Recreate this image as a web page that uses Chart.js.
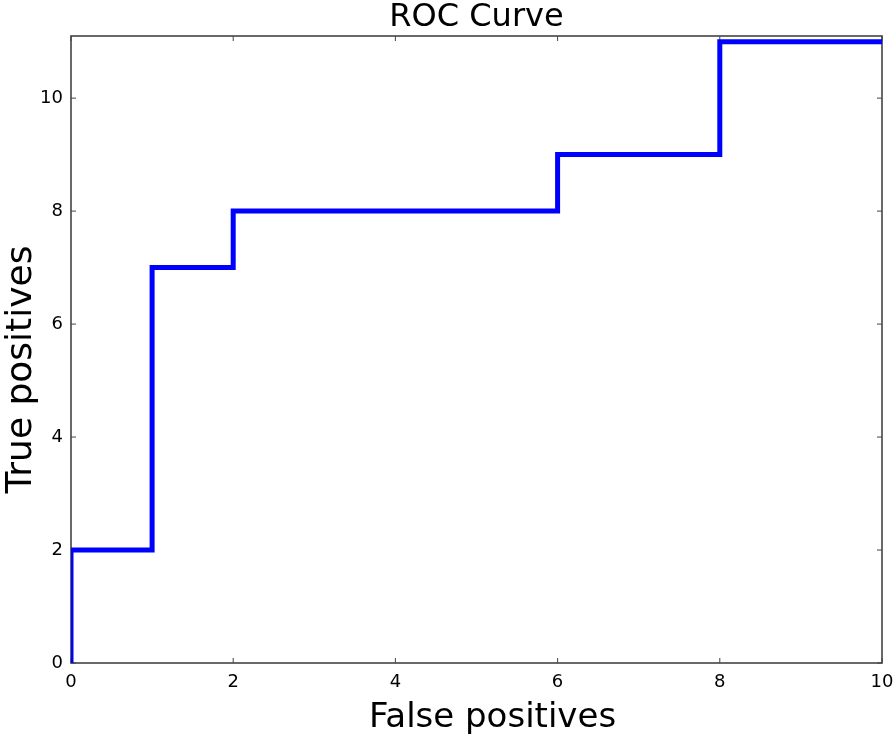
<!DOCTYPE html>
<html>
<head>
<meta charset="utf-8">
<script src="https://cdn.jsdelivr.net/npm/chart.js@4.4.1/dist/chart.umd.min.js"></script>
<style>
  body { margin: 0; background: #fff; }
  #wrap { width: 896px; height: 739px; }
</style>
</head>
<body>
<div id="wrap"><canvas id="roc"></canvas></div>
<script>
// ROC curve points (false positives vs true positives)
const fpr = [0, 0, 1, 1, 2, 2, 6, 6, 8, 8, 10];
const tpr = [0, 2, 2, 7, 7, 8, 8, 9, 9, 11, 11];
const xTicks = [0, 2, 4, 6, 8, 10];
const yTicks = [0, 2, 4, 6, 8, 10];
const xLabel = 'False positives';
const yLabel = 'True positives';

const font = "'DejaVu Sans', sans-serif";

// box around the plot with small inward ticks, like the old matplotlib style
const frame = {
  id: 'frame',
  beforeDatasetsDraw(chart) {
    const { ctx, chartArea: a, scales: { x, y } } = chart;
    ctx.save();
    ctx.strokeStyle = '#444';
    ctx.lineWidth = 1;
    ctx.beginPath();
    x.ticks.forEach(t => {
      const px = x.getPixelForValue(t.value);
      ctx.moveTo(px, a.bottom); ctx.lineTo(px, a.bottom - 5);
      ctx.moveTo(px, a.top); ctx.lineTo(px, a.top + 5);
    });
    y.ticks.forEach(t => {
      const py = y.getPixelForValue(t.value);
      ctx.moveTo(a.left, py); ctx.lineTo(a.left + 5, py);
      ctx.moveTo(a.right, py); ctx.lineTo(a.right - 5, py);
    });
    ctx.stroke();
    ctx.lineWidth = 1.6;
    ctx.strokeStyle = '#444';
    ctx.strokeRect(a.left, a.top, a.width, a.height);
    ctx.restore();
  }
};

// axis labels sit a bit off-centre in the original, so draw them by hand
const axisLabels = {
  id: 'axisLabels',
  afterDraw(chart) {
    const { ctx, chartArea: a } = chart;
    ctx.save();
    ctx.fillStyle = '#000';
    ctx.textAlign = 'center';
    ctx.textBaseline = 'alphabetic';
    ctx.font = '34px ' + font;
    ctx.fillText(xLabel, (a.left + a.right) / 2 + 16, chart.height - 12);
    ctx.translate(31, (a.top + a.bottom) / 2 + 20);
    ctx.rotate(-Math.PI / 2);
    ctx.font = '36px ' + font;
    ctx.fillText(yLabel, 0, 0);
    ctx.restore();
  }
};

new Chart(document.getElementById('roc'), {
  type: 'line',
  data: {
    datasets: [{
      label: 'ROC',
      data: fpr.map((v, i) => ({ x: v, y: tpr[i] })),
      borderColor: '#0000ff',
      borderWidth: 5,
      pointRadius: 0,
      fill: false,
      tension: 0,
      borderJoinStyle: 'miter'
    }]
  },
  options: {
    responsive: true,
    maintainAspectRatio: false,
    animation: false,
    layout: { padding: { right: 14 } },
    plugins: {
      legend: { display: false },
      tooltip: { enabled: false },
      title: {
        display: true,
        fullSize: false,
        text: 'ROC Curve',
        color: '#000',
        font: { family: font, size: 32, weight: 'normal', lineHeight: 1 },
        padding: { top: 2, bottom: 2 }
      }
    },
    scales: {
      x: {
        type: 'linear',
        min: 0,
        max: 10,
        afterFit: s => { s.height = 76; s.paddingLeft = 0; s.paddingRight = 0; },
        afterBuildTicks: s => { s.ticks = xTicks.map(v => ({ value: v })); },
        grid: { display: false, drawTicks: false },
        border: { display: false },
        ticks: { color: '#000', padding: 9, font: { family: font, size: 18 } }
      },
      y: {
        type: 'linear',
        min: 0,
        max: 11.1,
        afterFit: s => { s.width = 71; },
        afterBuildTicks: s => { s.ticks = yTicks.map(v => ({ value: v })); },
        grid: { display: false, drawTicks: false },
        border: { display: false },
        ticks: { color: '#000', padding: 8, font: { family: font, size: 18 } }
      }
    }
  },
  plugins: [frame, axisLabels]
});
</script>
</body>
</html>
